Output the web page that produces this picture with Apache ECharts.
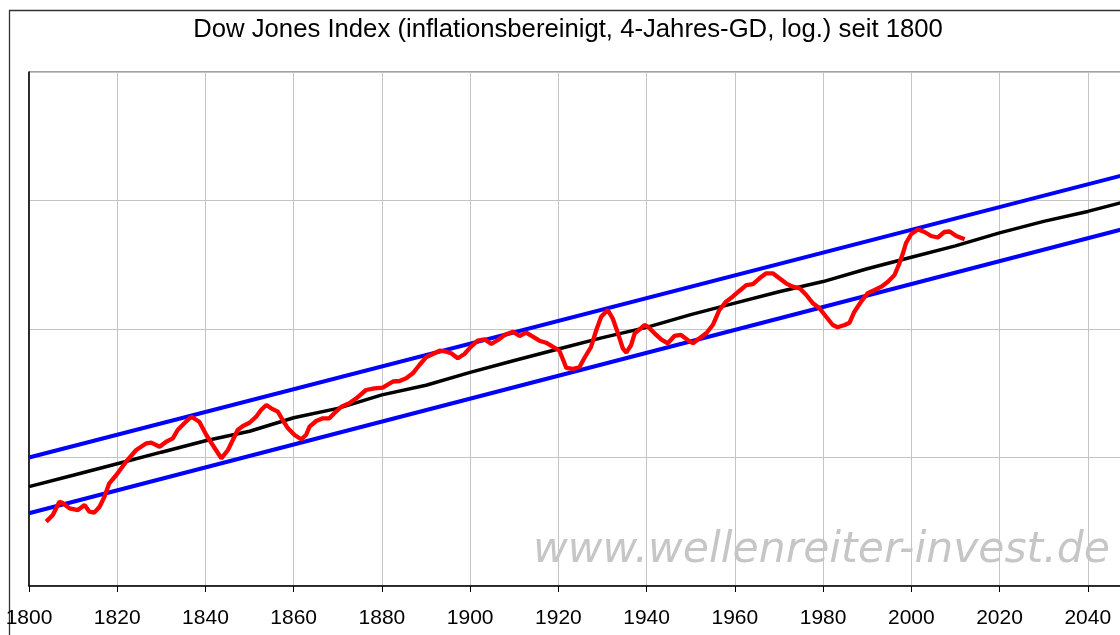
<!DOCTYPE html>
<html>
<head>
<meta charset="utf-8">
<script src="https://cdn.jsdelivr.net/npm/echarts@6/dist/echarts.min.js"></script>
<style>
html,body{margin:0;padding:0;background:#fff}
#main{width:1120px;height:635px}
</style>
</head>
<body>
<div id="main"></div>
<script>
var redYears = [
  1803.9,1805.4,1806.9,1807.7,1809.2,1811.1,1812.6,1813.7,1814.8,1816.0,
  1817.1,1818.2,1819.8,1822.0,1824.3,1826.6,1827.7,1829.6,1831.1,1832.6,
  1833.7,1835.2,1836.8,1838.6,1840.2,1842.0,1843.6,1845.1,1846.2,1847.3,
  1848.5,1850.0,1851.5,1852.6,1853.8,1854.9,1856.4,1857.5,1858.7,1860.2,
  1861.7,1862.8,1863.6,1865.1,1866.6,1868.1,1869.2,1870.8,1872.6,1874.2,
  1876.4,1878.3,1880.2,1882.5,1884.0,1885.5,1887.0,1888.5,1890.0,1891.9,
  1893.1,1894.6,1895.7,1897.2,1898.7,1900.2,1901.7,1903.3,1904.8,1906.3,
  1907.8,1909.7,1911.2,1912.7,1914.2,1915.7,1917.2,1918.7,1920.2,1921.0,
  1921.8,1923.3,1924.8,1925.9,1927.4,1928.6,1929.7,1931.2,1932.3,1933.5,
  1934.6,1935.4,1936.5,1937.3,1938.4,1939.5,1940.3,1941.8,1943.3,1944.8,
  1946.3,1947.8,1949.3,1950.5,1952.0,1953.5,1955.0,1956.5,1958.0,1959.5,
  1961.0,1962.6,1964.1,1965.6,1967.1,1968.6,1970.1,1971.6,1973.1,1974.7,
  1976.2,1977.7,1979.2,1980.7,1982.2,1983.3,1984.9,1986.0,1987.1,1988.6,
  1990.1,1991.7,1993.2,1994.7,1996.2,1997.3,1998.1,1998.8,2000.0,2001.5,
  2003.0,2004.5,2006.0,2007.5,2008.7,2010.2,2012.1
];
var redValues = [
  31.7,35.7,45.3,44.0,40.2,39.0,42.7,37.9,37.2,41.4,
  49.5,63.0,73.1,92.8,114.4,129.0,130.4,121.3,132.7,141.0,
  163.7,184.6,207.7,189.9,149.7,119.6,98.6,114.4,136.8,163.7,
  175.9,186.5,207.7,234.2,256.3,241.5,227.2,195.7,168.7,149.7,
  138.5,149.7,173.8,192.3,201.9,201.9,220.8,248.5,264.2,288.9,
  335.2,345.6,349.3,390.3,393.8,413.4,452.2,524.6,602.3,647.0,
  677.8,665.7,647.0,591.6,638.9,728.5,811.0,831.4,764.5,821.2,
  898.3,952.8,882.3,935.9,871.3,811.0,782.5,728.5,680.3,584.2,
  497.2,488.4,506.3,594.8,724.5,982.2,1246,1406,1211,925.8,
  707.8,654.0,750.9,925.8,994.5,1074,1042,925.8,831.4,774.0,
  882.3,898.3,821.2,774.0,846.5,925.8,1074,1406,1631,1784,
  1976,2199,2239,2480,2714,2714,2480,2268,2134,2073,
  1840,1585,1449,1246,1074,1031,1074,1119,1363,1631,
  1896,2012,2134,2334,2632,3245,3883,4670,5487,5947,
  5687,5293,5152,5687,5739,5293,4991
];
// Trendlinie (schwarz)
var trendYears = [1800,1810,1820,1830,1840,1850,1860,1870,1880,1890,1900,1910,1920,1930,
  1940,1950,1960,1970,1980,1990,2000,2010,2020,2030,2040,2050,2060];
var trendValues = [59.3,72.8,89.5,110,135,160,204,241,307,365,460,569,698,857,
  1030,1294,1589,1950,2340,2944,3614,4436,5600,6880,8222,10116,12420];
// Kanal (blau)
var channelYears = [1800, 2060];
var upperValues = [100, 20100];
var lowerValues = [36.8, 7660];

var xTicks = [1800,1820,1840,1860,1880,1900,1920,1940,1960,1980,2000,2020,2040];

function pairs(xs, ys) {
  return xs.map(function (x, i) { return [x, ys[i]]; });
}

var chart = echarts.init(document.getElementById('main'));
var option = {
  animation: false,
  backgroundColor: '#fff',
  grid: {
    left: 29, top: 72, bottom: 49, right: -56,
    show: true, borderColor: '#444', borderWidth: 1,
    outerBoundsMode: 'none'
  },
  xAxis: {
    type: 'value', min: 1800, max: 2060, interval: 20,
    axisLine: { lineStyle: { color: '#000', width: 1.5 } },
    axisTick: { show: true, length: 6, lineStyle: { color: '#000', width: 1 } },
    axisLabel: {
      margin: 22, color: '#000', fontSize: 21, fontFamily: 'Liberation Sans',
      formatter: function (v) { return xTicks.indexOf(v) >= 0 ? String(v) : ''; }
    },
    splitLine: { show: true, lineStyle: { color: '#c4c4c4', width: 1 } }
  },
  yAxis: {
    type: 'log', logBase: 10, min: 10, max: 100000,
    axisLine: { show: true, lineStyle: { color: '#000', width: 1.5 } },
    axisTick: { show: false },
    axisLabel: { show: false },
    splitLine: { show: true, lineStyle: { color: '#c4c4c4', width: 1 } }
  },
  graphic: [
    { type: 'rect', z: -10, silent: true,
      shape: { x: 9.5, y: 10.5, width: 1300, height: 800 },
      style: { fill: 'none', stroke: '#333', lineWidth: 1.3 } },
    { type: 'text', z: -5, silent: true, x: 533, y: 551,
      style: { text: 'www.wellenreiter-invest.de', fill: '#c6c6c6',
        font: 'italic 42.5px "DejaVu Sans"', align: 'left', verticalAlign: 'middle' } },
    { type: 'text', silent: true, x: 568, y: 30,
      style: { text: 'Dow Jones Index (inflationsbereinigt, 4-Jahres-GD, log.) seit 1800',
        fill: '#000', font: '25.7px "Liberation Sans"', align: 'center', verticalAlign: 'middle' } }
  ],
  series: [
    { type: 'line', data: pairs(channelYears, upperValues), showSymbol: false,
      lineStyle: { color: '#0000ff', width: 4 } },
    { type: 'line', data: pairs(channelYears, lowerValues), showSymbol: false,
      lineStyle: { color: '#0000ff', width: 4 } },
    { type: 'line', data: pairs(trendYears, trendValues), showSymbol: false,
      lineStyle: { color: '#000', width: 3.5 } },
    { type: 'line', data: pairs(redYears, redValues), showSymbol: false,
      lineStyle: { color: '#ff0000', width: 4.3 } }
  ]
};
chart.setOption(option);
</script>
</body>
</html>
